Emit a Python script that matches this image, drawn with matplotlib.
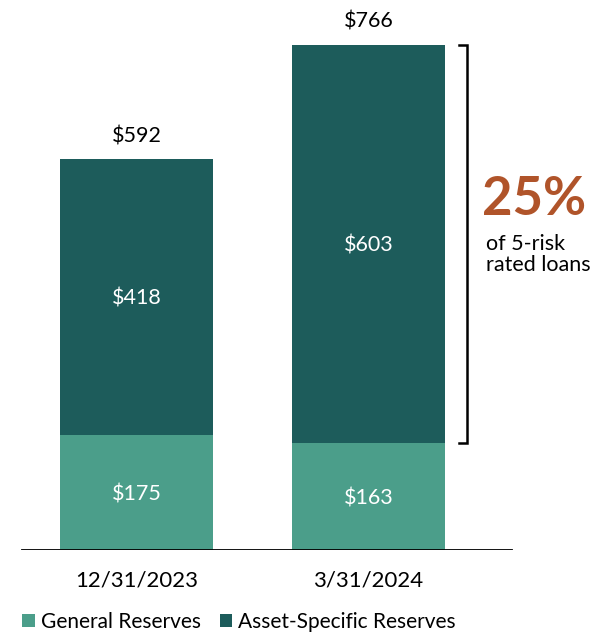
import matplotlib.pyplot as plt
import numpy as np

plt.rcParams['font.family'] = ['Lato', 'DejaVu Sans']

periods = ['12/31/2023', '3/31/2024']
general = [175, 163]
asset_specific = [418, 603]
totals = [592, 766]
legend_labels = ['General Reserves', 'Asset-Specific Reserves']

c_light = '#4b9e8a'
c_dark = '#1d5c5b'
c_orange = '#b0542a'

fig = plt.figure(figsize=(6.03, 6.34), dpi=100)
ax = fig.add_axes([0, 84/634, 1, 550/634])

x = np.arange(len(periods))
w = 0.66
ax.bar(x, general, w, color=c_light, label=legend_labels[0])
ax.bar(x, asset_specific, w, bottom=general, color=c_dark, label=legend_labels[1])

for i in range(len(periods)):
    ax.text(x[i], general[i] / 2 - 3, '$' + str(general[i]), ha='center', va='center',
            color='white', fontsize=15.5)
    ax.text(x[i], general[i] + asset_specific[i] / 2 - 3, '$' + str(asset_specific[i]),
            ha='center', va='center', color='white', fontsize=15.5)
    ax.text(x[i], totals[i] + 35, '$' + str(totals[i]), ha='center', va='center',
            color='black', fontsize=15.5)

ax.set_xlim(-136.5/232, (603-136.5)/232)
ax.set_ylim(0, 550/0.6593)
for s in ax.spines.values():
    s.set_visible(False)
ax.set_yticks([])
ax.set_xticks([])
ax.axhline(0, xmin=22/603, xmax=512/603, color='black', lw=1.3)

# dates under the bars
for i in range(len(periods)):
    ax.text(x[i], -46, periods[i], ha='center', va='center', fontsize=16)

# bracket around the asset-specific part of the second bar
bx = 1.425
top = totals[1]
bot = general[1]
ax.plot([bx - 0.035, bx, bx, bx - 0.035], [top, top, bot, bot], color='black', lw=1.8,
        solid_joinstyle='miter', clip_on=False)

ax.text(1.715, 531, '25%', ha='center', va='center', color=c_orange, fontsize=38,
        fontweight='bold')
ax.text(1.505, 448, 'of 5-risk\nrated loans', ha='left', va='center', fontsize=15.5,
        linespacing=1.05)

handles, labels = ax.get_legend_handles_labels()
fig.legend(handles, labels, loc='center left', bbox_to_anchor=(22/603, 12/634), ncol=2,
           frameon=False, fontsize=15, handlelength=0.6, handleheight=0.6,
           handletextpad=0.3, columnspacing=0.9, borderaxespad=0, borderpad=0)

fig.savefig('out.png', dpi=100)
